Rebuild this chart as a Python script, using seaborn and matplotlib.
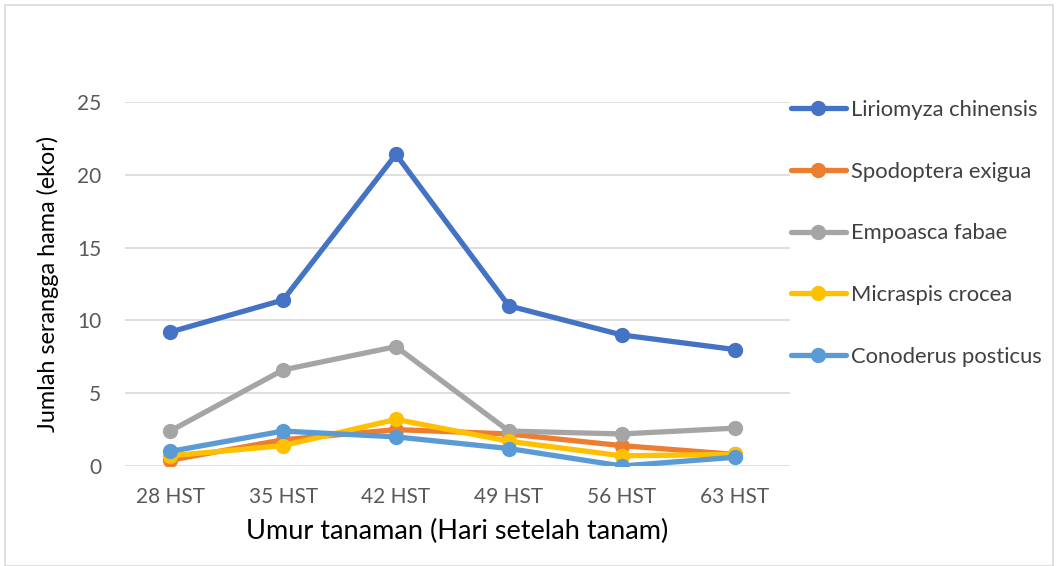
import matplotlib
matplotlib.use("Agg")
import matplotlib.pyplot as plt
import seaborn as sns
import pandas as pd
from matplotlib.patches import Rectangle

categories = ["28 HST", "35 HST", "42 HST", "49 HST", "56 HST", "63 HST"]
liriomyza = [9.2, 11.4, 21.4, 11.0, 9.0, 8.0]
spodoptera = [0.4, 1.8, 2.5, 2.2, 1.4, 0.8]
empoasca = [2.4, 6.6, 8.2, 2.4, 2.2, 2.6]
micraspis = [0.7, 1.4, 3.2, 1.7, 0.7, 0.8]
conoderus = [1.0, 2.4, 2.0, 1.2, 0.0, 0.6]

series_names = ["Liriomyza chinensis", "Spodoptera exigua", "Empoasca fabae",
                "Micraspis crocea", "Conoderus posticus"]
series_values = [liriomyza, spodoptera, empoasca, micraspis, conoderus]
colors = ["#4472C4", "#ED7D31", "#A5A5A5", "#FFC000", "#5B9BD5"]

rows = []
for name, vals in zip(series_names, series_values):
    for i, v in enumerate(vals):
        rows.append({"x": i, "cat": categories[i], "Hama": name, "value": v})
df = pd.DataFrame(rows)

sns.set_theme(style="white")
plt.rcParams["font.family"] = ["Lato", "DejaVu Sans"]

W, H = 1059, 566
fig = plt.figure(figsize=(W / 100, H / 100), dpi=100)
ax = fig.add_axes([125 / W, 1 - 466 / H, (790 - 125) / W, (466 - 102) / H])

sns.lineplot(data=df, x="x", y="value", hue="Hama", hue_order=series_names,
             palette=colors, marker="o", markersize=11, markeredgewidth=0,
             linewidth=3.8, ax=ax, legend=True)

ax.set_xlim(-0.4, 5.49)
ax.set_ylim(0, 25)
ax.set_yticks([0, 5, 10, 15, 20, 25])
ax.set_xticks(range(len(categories)))
ax.set_xticklabels(categories)
ax.yaxis.grid(True, color="#D9D9D9", linewidth=1.2)
ax.xaxis.grid(False)
for s in ax.spines.values():
    s.set_visible(False)
ax.tick_params(axis="both", labelsize=15, colors="#595959", length=0)
ax.tick_params(axis="y", pad=17)
ax.tick_params(axis="x", pad=15)
ax.set_xlabel("Umur tanaman (Hari setelah tanam)", fontsize=19.5, color="black")
ax.set_ylabel("Jumlah serangga hama (ekor)", fontsize=16.8, color="black")
ax.xaxis.set_label_coords(0.5, (466 - 531) / 364)
ax.xaxis.label.set_va("center")
ax.yaxis.set_label_coords((48 - 125) / 665, 0.5)
ax.yaxis.label.set_va("center")

handles, labels = ax.get_legend_handles_labels()
ax.legend(handles, labels, loc="upper left", bbox_to_anchor=(791 / W, 1 - 100 / H),
          bbox_transform=fig.transFigure, frameon=False, fontsize=15.8,
          labelspacing=1.9, handlelength=2.5, handletextpad=0.25,
          labelcolor="#404040", borderaxespad=0, borderpad=0)

fig.patches.append(Rectangle((5 / W, 0), 1048 / W, 1 - 5 / H, transform=fig.transFigure,
                             fill=False, edgecolor="#D9D9D9", linewidth=1.2))

fig.savefig("out.png", dpi=100)
